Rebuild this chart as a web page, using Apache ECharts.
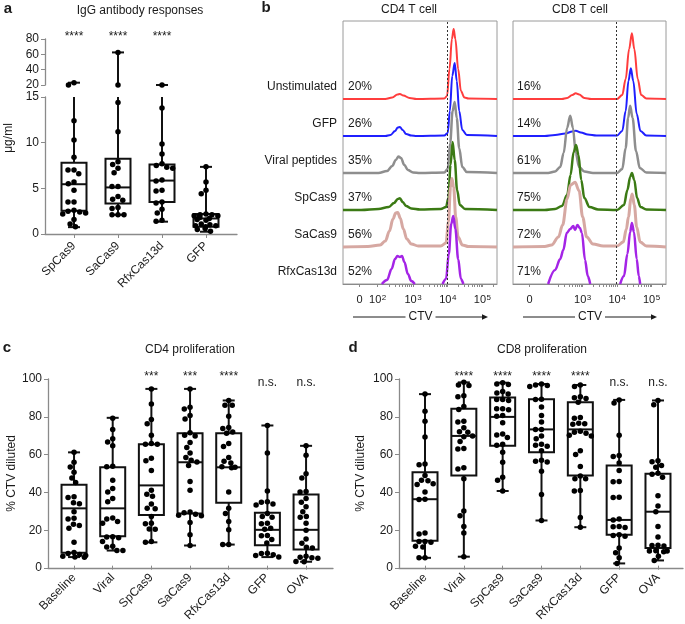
<!DOCTYPE html>
<html>
<head>
<meta charset="utf-8">
<script src="https://cdn.jsdelivr.net/npm/echarts@6.0.0/dist/echarts.min.js"></script>
<style>
html, body { margin: 0; padding: 0; background: #fff; }
#main { width: 685px; height: 624px; }
</style>
</head>
<body>
<div id="main"></div>
<script>
var FONT = 'Liberation Sans';
var INK = '#1a1a1a';
var AXIS = '#8a8a8a';

// ---- panel a: IgG antibody responses (ug/ml) ----
var igGroups = ['SpCas9', 'SaCas9', 'RfxCas13d', 'GFP'];
var igSig = ['****', '****', '****', ''];
// [min, q1, median, q3, max]
var igBox = [
    [0.75, 2.55, 5.45, 7.8, 23],
    [2.1, 3.35, 5.1, 8.25, 62.5],
    [1.35, 3.5, 5.85, 7.6, 20],
    [0.25, 0.8, 1.7, 2.2, 7.35]
];
var igSpCas9 = [23, 20, 12.4, 10.3, 8.4, 7.0, 7.0, 6.6, 5.7, 5.5, 4.8, 3.5, 3.5, 2.6, 2.5, 2.4, 2.3, 2.2, 1.6, 1.1, 0.8];
var igSaCas9 = [62.5, 20, 14.4, 11.2, 7.9, 7.6, 7.2, 6.7, 5.2, 5.2, 4.1, 3.8, 3.7, 2.9, 2.8, 2.1, 2.1, 2.1];
var igRfx = [20, 13.8, 9.85, 8.75, 7.7, 7.5, 7.3, 7.2, 5.9, 5.8, 4.8, 4.7, 3.5, 3.4, 2.7, 2.3, 1.5, 1.4];
var igGFP = [7.35, 5.7, 4.8, 4.4, 2.2, 2.1, 2.1, 2.0, 2.0, 1.9, 1.8, 1.7, 1.6, 1.5, 1.1, 1.0, 0.9, 0.9, 0.8, 0.6, 0.5, 0.3];
var igPoints = [igSpCas9, igSaCas9, igRfx, igGFP];

// ---- panel b: CTV dilution histograms ----
var ctvRows = ['Unstimulated', 'GFP', 'Viral peptides', 'SpCas9', 'SaCas9', 'RfxCas13d'];
var ctvColors = ['#ff3d3d', '#1f1fff', '#8e8e8e', '#3b7a14', '#d6a8a2', '#a424e6'];
var ctvWidths = [2, 2, 2.5, 2.5, 3, 2.5];
var cd4Pct = ['20%', '26%', '35%', '37%', '56%', '52%'];
var cd8Pct = ['16%', '14%', '61%', '75%', '72%', '71%'];
var cd4TickPos = [1.46, 1.98, 3, 4, 5];
var cd4TickText = ['0', '10{s|2}', '10{s|3}', '10{s|4}', '10{s|5}'];
var cd8TickPos = [1.46, 3, 4, 5];
var cd8TickText = ['0', '10{s|3}', '10{s|4}', '10{s|5}'];
var gateCTV = 3.98;

var cd4Unstim = [[0.98,0],[2.2,0],[2.4,1.5],[2.55,4.5],[2.62,5],[2.72,3.5],[2.9,1],[3.1,0],[3.9,0.5],[3.98,3],[4.05,30],[4.12,60],[4.17,70],[4.22,60],[4.3,30],[4.38,8],[4.48,1.5],[4.6,0.5],[5.42,0]];
var cd4GFP = [[0.98,0],[2.2,0],[2.35,1],[2.48,5],[2.56,8.5],[2.62,9],[2.7,6],[2.8,2],[2.95,0.5],[3.1,0],[3.9,0.5],[4.0,3],[4.06,25],[4.13,60],[4.2,73],[4.26,55],[4.33,25],[4.42,6],[4.55,1],[5.42,0]];
var cd4Viral = [[0.98,0],[2.0,0],[2.25,2],[2.4,7],[2.5,13],[2.58,16.5],[2.65,15],[2.75,8],[2.85,3],[3.0,0.5],[3.2,0],[3.9,0.5],[4.0,4],[4.07,30],[4.14,62],[4.2,71],[4.26,55],[4.33,25],[4.42,6],[4.55,1],[5.42,0]];
var cd4SpCas9 = [[0.98,0],[1.5,0],[2.0,1],[2.3,3],[2.45,7],[2.56,11],[2.62,11.7],[2.7,8],[2.8,4],[2.95,1.5],[3.2,0.5],[3.8,1],[3.95,3],[4.02,12],[4.08,45],[4.14,68],[4.2,50],[4.27,20],[4.35,5],[4.5,1],[5.42,0]];
var cd4SaCas9 = [[0.98,0],[1.7,0.5],[2.05,2],[2.2,6],[2.32,16],[2.42,28],[2.5,34],[2.56,34.5],[2.63,29],[2.72,18],[2.82,8],[2.95,3],[3.15,1],[3.8,1],[3.95,4],[4.02,25],[4.08,60],[4.12,68.5],[4.17,60],[4.23,30],[4.3,10],[4.42,2],[4.6,0.5],[5.42,0]];
var cd4Rfx = [[2.1,0],[2.25,4],[2.38,15],[2.48,25],[2.55,28],[2.62,27],[2.68,28],[2.75,22],[2.85,10],[2.95,3],[3.05,0],[3.4,null],[3.85,0],[3.95,5],[4.03,30],[4.1,60],[4.16,68],[4.22,55],[4.3,25],[4.38,5],[4.45,0]];

var cd8Unstim = [[0.98,0],[2.4,0],[2.55,1],[2.7,4],[2.8,5.7],[2.9,4.5],[3.05,1],[3.25,0],[4.0,0],[4.15,4],[4.25,20],[4.35,50],[4.43,65.7],[4.5,50],[4.6,20],[4.7,4],[4.85,0.5],[5.42,0]];
var cd8GFP = [[0.98,0],[1.9,0],[2.2,1],[2.5,2.5],[2.7,4.5],[2.8,5.3],[2.95,3.5],[3.15,1.5],[3.4,0.5],[4.0,0.5],[4.15,5],[4.25,25],[4.33,55],[4.4,67.7],[4.47,55],[4.57,22],[4.68,5],[4.85,0.5],[5.42,0]];
var cd8Viral = [[0.98,0],[2.0,0],[2.2,1.5],[2.35,6],[2.45,20],[2.55,45],[2.64,57.3],[2.72,45],[2.8,20],[2.9,6],[3.05,1.5],[3.3,0],[4.0,0],[4.15,4],[4.25,25],[4.32,55],[4.38,67.3],[4.45,55],[4.55,22],[4.66,5],[4.85,0.5],[5.42,0]];
var cd8SpCas9 = [[0.98,0],[1.9,0],[2.2,1],[2.4,4],[2.55,15],[2.65,35],[2.74,58],[2.81,65],[2.88,55],[2.96,30],[3.05,12],[3.2,3],[3.45,0.5],[4.0,0],[4.2,5],[4.3,20],[4.38,33],[4.43,37],[4.5,30],[4.58,12],[4.68,3],[4.85,0.5],[5.42,0]];
var cd8SaCas9 = [[0.98,0],[1.9,0.5],[2.1,2],[2.3,10],[2.42,22],[2.55,48],[2.65,62],[2.78,64.7],[2.9,56],[3.0,30],[3.12,10],[3.3,3],[3.6,1],[4.0,1],[4.18,5],[4.27,18],[4.33,30],[4.4,48],[4.44,53],[4.5,42],[4.57,20],[4.67,5],[4.85,1],[5.42,0]];
var cd8Rfx = [[2.0,0],[2.2,14],[2.35,25],[2.44,34],[2.54,51],[2.64,55],[2.73,58],[2.78,54],[2.85,59],[2.92,56],[2.98,51],[3.07,24],[3.15,8],[3.22,0],[3.6,null],[4.09,0],[4.2,8],[4.3,30],[4.38,52],[4.43,61],[4.49,52],[4.57,25],[4.63,8],[4.67,0]];

var cd4Curves = [cd4Unstim, cd4GFP, cd4Viral, cd4SpCas9, cd4SaCas9, cd4Rfx];
var cd8Curves = [cd8Unstim, cd8GFP, cd8Viral, cd8SpCas9, cd8SaCas9, cd8Rfx];

// ---- panels c and d: % CTV diluted ----
var prolifGroups = ['Baseline', 'Viral', 'SpCas9', 'SaCas9', 'RfxCas13d', 'GFP', 'OVA'];
var cd4Sig = ['', '', '***', '***', '****', 'n.s.', 'n.s.'];
var cd8Sig = ['', '****', '****', '****', '****', 'n.s.', 'n.s.'];

var cd4Box = [
    [4.6, 6.9, 30.7, 43.4, 60.7],
    [8.1, 15.7, 30.7, 52.7, 79.2],
    [12.5, 27.1, 43, 65, 94.7],
    [10.8, 28, 55.4, 70.9, 94.7],
    [11.3, 33.7, 52.7, 70.9, 88.5],
    [4.6, 10.9, 19.2, 28.4, 75.1],
    [2.1, 8.6, 19.2, 38.1, 64.2]
];
var cd4Baseline = [60.7, 55.4, 52.9, 50, 47, 44.5, 36.9, 36.5, 33.7, 33.2, 28.9, 25.4, 25, 22.2, 21.5, 20.1, 12.5, 7, 6.5, 6, 5.5, 5, 4.6, 4.5];
var cd4Viral = [79, 73, 68, 66.3, 64.2, 53.3, 53, 45.7, 41.3, 39.5, 36, 34.2, 25.5, 25, 23.6, 22.7, 15.5, 15.3, 15, 13, 10.4, 10, 8.1, 8.1];
var cd4Sp = [94.7, 86.6, 78.3, 76, 69.8, 65.5, 65, 65, 57.5, 56.2, 51, 40.4, 38.3, 37.2, 33, 30.7, 30.5, 26.3, 22.7, 22.5, 19.7, 19.5, 13, 12.5];
var cd4Sa = [94.7, 84.8, 83.9, 80.4, 78.6, 71.2, 69.8, 69.5, 66, 63.3, 60.3, 58, 56.5, 55.6, 53.6, 45.1, 40.4, 28.8, 28.3, 27.5, 27, 26.8, 23.1, 16.6, 10.8];
var cd4RfxPts = [88.5, 86, 85.9, 80.1, 74, 73.5, 71.6, 71, 65.4, 63.8, 58, 56, 55, 53, 52.7, 52.5, 39.5, 30.7, 28, 23.6, 19.2, 11.3, 11.3];
var cd4GFPPts = [75.1, 60.3, 40, 34.2, 34, 33, 32.5, 28, 26.3, 26, 22.7, 22.5, 20, 19.5, 16.2, 16, 14, 12.2, 6.6, 6.5, 5.8, 5.5, 4.6];
var cd4OVA = [64.2, 59.2, 49.2, 46.9, 39.7, 39.5, 36, 34, 31.6, 28.9, 26.3, 26, 22.7, 19, 14.3, 12, 9.9, 9.5, 5, 4.5, 4.2, 4, 2.2, 2.1];
var cd4Points = [cd4Baseline, cd4Viral, cd4Sp, cd4Sa, cd4RfxPts, cd4GFPPts, cd4OVA];

var cd8Box = [
    [4.2, 13.4, 35.6, 50.1, 91.9],
    [4.8, 48.3, 69.5, 84.1, 98.2],
    [40, 64.2, 79.7, 90.1, 98],
    [24.2, 60.7, 73, 89.2, 97.3],
    [20.6, 48.3, 73, 87.5, 96.8],
    [1.2, 16.6, 24.5, 53.6, 88.8],
    [2.8, 9.5, 28.9, 49.2, 88.5]
];
var cd8Baseline = [91.9, 82.7, 77.4, 68.9, 54.5, 54, 48.3, 45.7, 45.5, 43.9, 43.5, 39.5, 35.6, 35.5, 17.5, 17, 13, 13, 12.5, 10.4, 10, 4.2, 4.2];
var cd8Viral = [98.2, 96.8, 96.5, 91, 90.5, 85.3, 83.6, 77.4, 77, 73.9, 71.7, 71.5, 69.5, 69, 66.5, 62.7, 62.5, 52.4, 51.8, 46.6, 29.3, 26.8, 21, 17.5, 4.8];
var cd8Sp = [98, 97.3, 97, 93.3, 92.5, 92, 89, 89, 88.5, 84, 84, 83.5, 80.4, 80, 76.5, 70.6, 70, 68.6, 65, 64.5, 60.7, 55.4, 47.4, 45.7, 40];
var cd8Sa = [97.3, 96.8, 96.5, 96, 89.2, 89, 85, 80.5, 77, 73, 73, 69.5, 68, 65, 64.5, 64, 61.5, 56.5, 56, 55.5, 50.6, 38.1, 24.2];
var cd8RfxPts = [96.8, 96, 90.5, 90, 89.5, 87.5, 79.4, 79, 76.3, 76, 75.8, 72, 71.5, 71, 69.8, 69.5, 61.5, 59.5, 53.1, 48, 46.6, 46.5, 40.2, 40, 25.8, 20.6];
var cd8GFPPts = [88.8, 87.1, 69.8, 59, 58.5, 55, 51, 45.1, 45, 36.7, 36.5, 25, 24.5, 21, 20.9, 20.5, 16.5, 16.1, 15.8, 9.5, 6.9, 4.2, 1.2];
var cd8OVA = [88.5, 86.2, 56.2, 55.7, 53.6, 52.7, 49.5, 49, 47.4, 37.4, 31.9, 28.9, 21, 15.3, 11, 10.8, 10.5, 8, 7.9, 7.8, 7.5, 5.1, 2.8];
var cd8Points = [cd8Baseline, cd8Viral, cd8Sp, cd8Sa, cd8RfxPts, cd8GFPPts, cd8OVA];

// ---------------------------------------------------------------
var ROW_GAP = 37;
var BOX_HALF = 12.5, CAP_HALF = 6;

function txt(size, extra) {
    var s = { fontFamily: FONT, fontSize: size, color: INK };
    for (var k in extra) s[k] = extra[k];
    return s;
}

function boxRenderer(lo, hi) {
    return function (params, api) {
        var c = api.value(0);
        var v = [api.value(1), api.value(2), api.value(3), api.value(4), api.value(5)];
        var clamp = function (y) { return Math.min(hi, Math.max(lo, y)); };
        var pt = function (y) { return api.coord([c, clamp(y)]); };
        var st = { stroke: '#111', lineWidth: 2, fill: 'none' };
        var kids = [];
        var seg = function (x1, y1, x2, y2) {
            kids.push({ type: 'line', shape: { x1: x1, y1: y1, x2: x2, y2: y2 }, style: st });
        };
        if (v[3] > lo && v[1] < hi) {
            var t = pt(v[3]), b = pt(v[1]);
            kids.push({ type: 'rect', shape: { x: t[0] - BOX_HALF, y: t[1], width: BOX_HALF * 2, height: b[1] - t[1] }, style: st });
            if (v[2] >= lo && v[2] <= hi) {
                var m = pt(v[2]);
                seg(m[0] - BOX_HALF, m[1], m[0] + BOX_HALF, m[1]);
            }
        }
        // lower whisker
        if (v[1] > lo && v[0] < hi) {
            var a = pt(v[0]), q = pt(v[1]);
            seg(a[0], a[1], q[0], q[1]);
        }
        // upper whisker
        if (v[4] > lo && v[3] < hi) {
            var q3 = pt(v[3]), mx = pt(v[4]);
            seg(q3[0], q3[1], mx[0], mx[1]);
        }
        [v[0], v[4]].forEach(function (e) {
            if (e >= lo && e <= hi) {
                var p = pt(e);
                seg(p[0] - CAP_HALF, p[1], p[0] + CAP_HALF, p[1]);
            }
        });
        return { type: 'group', children: kids };
    };
}

function boxSeries(box, xi, yi, lo, hi) {
    return {
        type: 'custom', xAxisIndex: xi, yAxisIndex: yi, z: 2,
        renderItem: boxRenderer(lo, hi),
        encode: { x: 0, y: [1, 2, 3, 4, 5] },
        data: box.map(function (b, i) { return [i].concat(b); })
    };
}

function dotSeries(groups, xi, yi, keep) {
    var data = [];
    groups.forEach(function (vals, i) {
        vals.forEach(function (v) { if (keep(v)) data.push([i, v]); });
    });
    return {
        type: 'scatter', xAxisIndex: xi, yAxisIndex: yi, z: 3, clip: false,
        symbolSize: 5.5, itemStyle: { color: '#000', opacity: 1 }, data: data
    };
}

function catAxis(grid, cats) {
    return {
        type: 'category', gridIndex: grid, data: cats, position: 'bottom',
        axisLine: { show: false },
        axisTick: { show: true, alignWithLabel: true, length: 4, lineStyle: { color: AXIS } },
        axisLabel: txt(12, { rotate: 45, margin: 10, interval: 0 }),
        jitter: 24, jitterOverlap: false, jitterMargin: 0.5
    };
}

function hiddenCat(grid, cats) {
    return {
        type: 'category', gridIndex: grid, data: cats, position: 'bottom', show: false,
        jitter: 24, jitterOverlap: false, jitterMargin: 0.5
    };
}

function sigAxis(grid, cats, sig) {
    return {
        type: 'category', gridIndex: grid, data: cats, position: 'top',
        axisLine: { show: false }, axisTick: { show: false },
        axisLabel: txt(12, {
            margin: -10, interval: 0,
            formatter: function (v, i) { return sig[i].charAt(0) === '*' ? '{s|' + sig[i] + '}' : sig[i]; },
            rich: { s: { fontFamily: FONT, fontSize: 12, color: INK, padding: [0, 0, 6, 0] } }
        })
    };
}

function frameX(grid) {
    return {
        type: 'value', gridIndex: grid, min: 0, max: 1,
        axisLine: { show: true, lineStyle: { color: AXIS, width: 1.3 } },
        axisTick: { show: false }, axisLabel: { show: false }, splitLine: { show: false }
    };
}

function valueY(grid, min, max, step, extra) {
    var ax = {
        type: 'value', gridIndex: grid, min: min, max: max, interval: step,
        axisLine: { show: true, lineStyle: { color: AXIS, width: 1.3 } },
        axisTick: { show: true, length: 4, lineStyle: { color: AXIS } },
        axisLabel: txt(12, { margin: 6 }),
        splitLine: { show: false }
    };
    for (var k in extra) ax[k] = extra[k];
    return ax;
}

function nearest(pos, v) {
    var best = 0;
    pos.forEach(function (p, i) { if (Math.abs(p - v) < Math.abs(pos[best] - v)) best = i; });
    return best;
}

function ctvAxis(grid, pos, text) {
    var ticks = pos.slice();
    [2, 3, 4].forEach(function (d) {
        for (var k = 2; k <= 9; k++) ticks.push(d + Math.log10(k));
    });
    ticks.push(5 + Math.log10(2));
    return {
        type: 'value', gridIndex: grid, min: 0.98, max: 5.42,
        axisLine: { show: true, lineStyle: { color: AXIS } },
        axisTick: { show: true, length: 3, customValues: ticks, lineStyle: { color: AXIS } },
        axisLabel: txt(11, {
            margin: 10, customValues: pos,
            formatter: function (v) { return text[nearest(pos, v)]; },
            rich: { s: { fontFamily: FONT, fontSize: 8, color: INK, verticalAlign: 'top', padding: [0, 0, 0, 0.5] } }
        }),
        splitLine: { show: false }
    };
}

function rowLabelPos() {
    return ctvRows.map(function (r, i) { return (ctvRows.length - 1 - i) * ROW_GAP + 12; });
}

function rowAxis(grid, labels, extra) {
    var pos = rowLabelPos();
    var ax = {
        type: 'value', gridIndex: grid, min: 0, max: 263,
        axisLine: { show: false }, axisTick: { show: false }, splitLine: { show: false },
        axisLabel: txt(12, {
            customValues: pos,
            formatter: function (v) { return labels[nearest(pos, v)]; }
        })
    };
    for (var k in extra) {
        if (k === 'label') { for (var j in extra.label) ax.axisLabel[j] = extra.label[j]; }
        else ax[k] = extra[k];
    }
    return ax;
}

function ridgeSeries(curves, xi, yi) {
    return curves.map(function (curve, row) {
        var base = (ctvRows.length - 1 - row) * ROW_GAP;
        var s = {
            type: 'line', xAxisIndex: xi, yAxisIndex: yi, name: ctvRows[row],
            showSymbol: false, smooth: 0.35, smoothMonotone: 'x', connectNulls: false,
            lineStyle: { color: ctvColors[row], width: ctvWidths[row] },
            itemStyle: { color: ctvColors[row] },
            data: curve.map(function (p) { return [p[0], p[1] == null ? null : base + p[1]]; })
        };
        if (row === 0) {
            s.markLine = {
                silent: true, symbol: 'none', label: { show: false },
                lineStyle: { color: '#333', type: [2, 2], width: 1 },
                data: [{ xAxis: gateCTV }]
            };
        }
        return s;
    });
}

function ctvArrow(x1, x2, y) {
    var mid = (x1 + x2) / 2;
    return [
        { type: 'line', shape: { x1: x1, y1: y, x2: mid - 15, y2: y }, style: { stroke: INK, lineWidth: 1 } },
        { type: 'line', shape: { x1: mid + 15, y1: y, x2: x2 - 4, y2: y }, style: { stroke: INK, lineWidth: 1 } },
        { type: 'polygon', shape: { points: [[x2, y], [x2 - 6, y - 2.8], [x2 - 6, y + 2.8]] }, style: { fill: INK } },
        { type: 'text', x: mid, y: y, style: { text: 'CTV', font: '12px ' + FONT, fill: INK, align: 'center', verticalAlign: 'middle' } }
    ];
}

function label(t, x, y, size, bold, extra) {
    var el = {
        type: 'text', x: x, y: y,
        style: { text: t, font: (bold ? 'bold ' : '') + size + 'px ' + FONT, fill: INK, align: 'center', verticalAlign: 'middle' }
    };
    for (var k in extra) el[k] = extra[k];
    return el;
}

var chart = echarts.init(document.getElementById('main'));

var option = {
    animation: false,
    textStyle: { fontFamily: FONT },
    grid: [
        { left: 52, top: 39, width: 176, height: 46 },        // 0 a upper
        { left: 45, top: 97, width: 192, height: 137 },       // 1 a lower frame
        { left: 52, top: 97, width: 176, height: 137 },       // 2 a lower data
        { left: 343, top: 21, width: 154, height: 263, show: true, borderColor: '#9a9a9a', borderWidth: 1 }, // 3 CD4
        { left: 513, top: 21, width: 153, height: 263, show: true, borderColor: '#9a9a9a', borderWidth: 1 }, // 4 CD8
        { left: 48, top: 379, width: 285, height: 189 },      // 5 c frame
        { left: 54.7, top: 379, width: 270.7, height: 189 },  // 6 c data
        { left: 399, top: 379, width: 284, height: 189 },     // 7 d frame
        { left: 405.6, top: 379, width: 271.8, height: 189 }  // 8 d data
    ],
    xAxis: [
        hiddenCat(0, igGroups),                 // 0
        sigAxis(0, igGroups, igSig),            // 1
        frameX(1),                              // 2
        catAxis(2, igGroups),                   // 3
        ctvAxis(3, cd4TickPos, cd4TickText),    // 4
        ctvAxis(4, cd8TickPos, cd8TickText),    // 5
        frameX(5),                              // 6
        catAxis(6, prolifGroups),               // 7
        sigAxis(6, prolifGroups, cd4Sig),       // 8
        frameX(7),                              // 9
        catAxis(8, prolifGroups),               // 10
        sigAxis(8, prolifGroups, cd8Sig)        // 11
    ],
    yAxis: [
        valueY(0, 20, 80, 20, { offset: 7 }),                       // 0
        valueY(1, 0, 15, 5),                                        // 1
        { type: 'value', gridIndex: 2, min: 0, max: 15, show: false }, // 2
        rowAxis(3, ctvRows, { position: 'left', label: { margin: 6 } }),                 // 3
        rowAxis(3, cd4Pct, { position: 'right', offset: -149, label: { margin: 0 } }),   // 4
        rowAxis(4, cd8Pct, { position: 'left', label: { inside: true, margin: 4 } }),     // 5
        valueY(5, 0, 100, 20, { name: '% CTV diluted', nameLocation: 'middle', nameGap: 29, nameTextStyle: txt(12) }), // 6
        { type: 'value', gridIndex: 6, min: 0, max: 100, show: false },  // 7
        valueY(7, 0, 100, 20, { name: '% CTV diluted', nameLocation: 'middle', nameGap: 32, nameTextStyle: txt(12) }), // 8
        { type: 'value', gridIndex: 8, min: 0, max: 100, show: false }   // 9
    ],
    series: [].concat(
        [boxSeries(igBox, 0, 0, 20, 80), dotSeries(igPoints, 0, 0, function (v) { return v >= 20; })],
        [boxSeries(igBox, 3, 2, 0, 15), dotSeries(igPoints, 3, 2, function (v) { return v <= 15; })],
        ridgeSeries(cd4Curves, 4, 3),
        ridgeSeries(cd8Curves, 5, 5),
        [boxSeries(cd4Box, 7, 7, 0, 100), dotSeries(cd4Points, 7, 7, function () { return true; })],
        [boxSeries(cd8Box, 10, 9, 0, 100), dotSeries(cd8Points, 10, 9, function () { return true; })]
    ),
    graphic: [].concat(
        [
            label('a', 8, 9, 15, true),
            label('b', 266, 8, 15, true),
            label('c', 7, 348, 15, true),
            label('d', 353, 348, 15, true),
            label('IgG antibody responses', 140, 11, 12, false),
            label('CD4 T cell', 409, 10, 12, false),
            label('CD8 T cell', 580, 10, 12, false),
            label('CD4 proliferation', 190, 350, 12, false),
            label('CD8 proliferation', 542, 350, 12, false),
            label('μg/ml', 9, 138, 12, false, { rotation: Math.PI / 2 })
        ],
        ctvArrow(353, 488, 317),
        ctvArrow(523, 657, 317)
    )
};

chart.setOption(option);
</script>
</body>
</html>
